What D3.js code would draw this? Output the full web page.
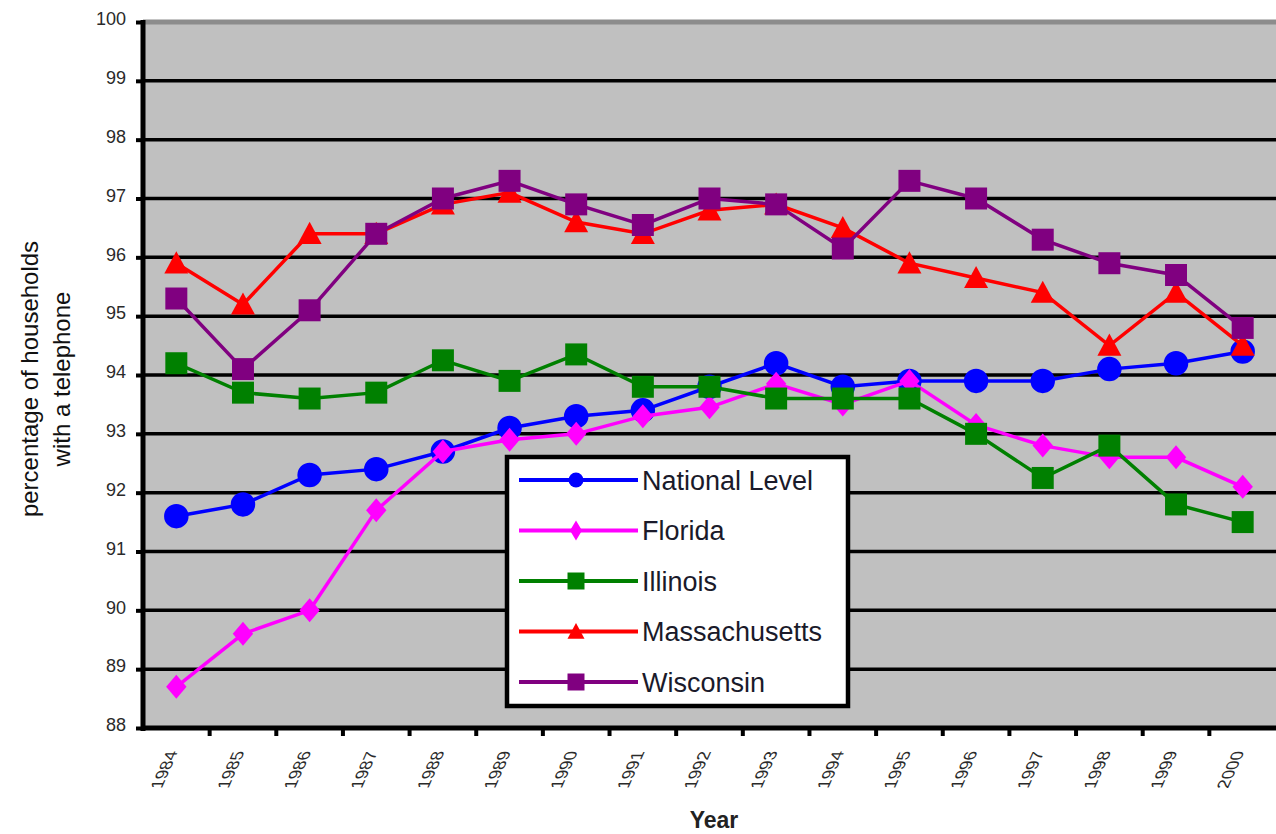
<!DOCTYPE html>
<html>
<head>
<meta charset="utf-8">
<script src="https://cdn.jsdelivr.net/npm/d3@7"></script>
<style>
  html, body { margin: 0; padding: 0; background: #fff; }
  svg { display: block; font-family: "Liberation Sans", Arial, sans-serif; }
</style>
</head>
<body>
<div id="chart"></div>
<script>
// Telephone penetration by state, 1984-2000

const years = ["1984","1985","1986","1987","1988","1989","1990","1991","1992",
               "1993","1994","1995","1996","1997","1998","1999","2000"];

const national      = [91.6, 91.8, 92.3, 92.4, 92.7, 93.1, 93.3, 93.4, 93.8, 94.2, 93.8, 93.9, 93.9, 93.9, 94.1, 94.2, 94.4];
const florida       = [88.7, 89.6, 90.0, 91.7, 92.7, 92.9, 93.0, 93.3, 93.45, 93.85, 93.5, 93.9, 93.15, 92.8, 92.6, 92.6, 92.1];
const illinois      = [94.2, 93.7, 93.6, 93.7, 94.25, 93.9, 94.35, 93.8, 93.8, 93.6, 93.6, 93.6, 93.0, 92.25, 92.8, 91.8, 91.5];
const massachusetts = [95.9, 95.2, 96.4, 96.4, 96.9, 97.1, 96.6, 96.4, 96.8, 96.9, 96.5, 95.9, 95.65, 95.4, 94.5, 95.4, 94.5];
const wisconsin     = [95.3, 94.1, 95.1, 96.4, 97.0, 97.3, 96.9, 96.55, 97.0, 96.9, 96.15, 97.3, 97.0, 96.3, 95.9, 95.7, 94.8];

const seriesNames = ["National Level", "Florida", "Illinois", "Massachusetts", "Wisconsin"];
const yTicks = [88, 89, 90, 91, 92, 93, 94, 95, 96, 97, 98, 99, 100];

// custom symbols so triangles / diamonds sit centred like Excel markers
const symTriangle = {
  draw(ctx, size) {
    const s = Math.sqrt(size) / 2;
    ctx.moveTo(0, -s);
    ctx.lineTo(s, s * 0.85);
    ctx.lineTo(-s, s * 0.85);
    ctx.closePath();
  }
};
const symDiamond = {
  draw(ctx, size) {
    const s = Math.sqrt(size) / 2;
    ctx.moveTo(0, -s);
    ctx.lineTo(s * 0.85, 0);
    ctx.lineTo(0, s);
    ctx.lineTo(-s * 0.85, 0);
    ctx.closePath();
  }
};
const symTallDiamond = {
  draw(ctx, size) {
    const s = Math.sqrt(size) / 2;
    ctx.moveTo(0, -s);
    ctx.lineTo(s * 0.6, 0);
    ctx.lineTo(0, s);
    ctx.lineTo(-s * 0.6, 0);
    ctx.closePath();
  }
};

const series = [
  { name: seriesNames[0], values: national,      color: "#0000ff", sym: d3.symbolCircle, legendSym: d3.symbolCircle, size: Math.PI * 150, legendSize: Math.PI * 56 },
  { name: seriesNames[1], values: florida,       color: "#ff00ff", sym: symDiamond,      legendSym: symTallDiamond, size: 576, legendSize: 400 },
  { name: seriesNames[2], values: illinois,      color: "#008000", sym: d3.symbolSquare, legendSym: d3.symbolSquare, size: 484, legendSize: 289 },
  { name: seriesNames[3], values: massachusetts, color: "#ff0000", sym: symTriangle,     legendSym: symTriangle,    size: 576, legendSize: 290 },
  { name: seriesNames[4], values: wisconsin,     color: "#800080", sym: d3.symbolSquare, legendSym: d3.symbolSquare, size: 484, legendSize: 289 }
];

const width = 1276, height = 834;
const plot = { left: 143, right: 1276, top: 22, bottom: 728 };

const svg = d3.select("#chart").append("svg")
  .attr("width", width)
  .attr("height", height);

// scales
const x = d3.scaleBand()
  .domain(years)
  .range([plot.left, plot.right])
  .padding(0);
const cx = d => x(d) + x.bandwidth() / 2;

const y = d3.scaleLinear()
  .domain([88, 100])
  .range([plot.bottom, plot.top]);

// plot background
svg.append("rect")
  .attr("x", plot.left).attr("y", plot.top)
  .attr("width", plot.right - plot.left)
  .attr("height", plot.bottom - plot.top)
  .attr("fill", "#c0c0c0");

// gridlines (top one greyish like the frame)
svg.append("g")
  .selectAll("line")
  .data(yTicks.filter(t => t > 88))
  .join("line")
  .attr("x1", plot.left).attr("x2", plot.right)
  .attr("y1", d => y(d)).attr("y2", d => y(d))
  .attr("stroke", d => d === 100 ? "#8c8c8c" : "#000")
  .attr("stroke-width", d => d === 100 ? 5 : 3.5);

// y axis
const yAxis = svg.append("g")
  .attr("transform", `translate(${plot.left},0)`)
  .call(d3.axisLeft(y).tickValues(yTicks).tickSize(7).tickPadding(10).tickFormat(d3.format("d")));
yAxis.select(".domain").remove();
yAxis.selectAll("line").attr("stroke", "#000").attr("stroke-width", 4);
yAxis.selectAll("text")
  .attr("dy", "0.15em")
  .style("font-size", "18px")
  .style("fill", "#2a2a2a")
  .style("font-family", "'Liberation Sans', Arial, sans-serif");

// x axis ticks at category boundaries
const boundaries = years.map(d => x(d)).concat([plot.right]);
svg.append("g")
  .selectAll("line")
  .data(boundaries.slice(1, -1))
  .join("line")
  .attr("x1", d => d).attr("x2", d => d)
  .attr("y1", plot.bottom).attr("y2", plot.bottom + 8)
  .attr("stroke", "#000")
  .attr("stroke-width", 4);

// axis lines
svg.append("line")
  .attr("x1", plot.left).attr("x2", plot.right)
  .attr("y1", plot.bottom).attr("y2", plot.bottom)
  .attr("stroke", "#000").attr("stroke-width", 5);
svg.append("line")
  .attr("x1", plot.left).attr("x2", plot.left)
  .attr("y1", plot.top - 2).attr("y2", plot.bottom + 3)
  .attr("stroke", "#000").attr("stroke-width", 5);

// slanted year labels
svg.append("g")
  .selectAll("text")
  .data(years)
  .join("text")
  .attr("transform", d => `translate(${cx(d) + 2},${plot.bottom + 23}) rotate(-90) skewY(24)`)
  .attr("text-anchor", "end")
  .style("font-size", "17px")
  .style("fill", "#2a2a2a")
  .text(d => d);

// axis titles
svg.append("text")
  .attr("x", 714).attr("y", 828)
  .attr("text-anchor", "middle")
  .style("font-size", "23px")
  .style("font-weight", "bold")
  .style("fill", "#222")
  .text("Year");

const yTitle = svg.append("text")
  .attr("transform", "translate(38,379) rotate(-90)")
  .attr("text-anchor", "middle")
  .style("font-size", "24px")
  .style("fill", "#111");
yTitle.append("tspan").attr("x", 0).attr("y", 0).text("percentage of households");
yTitle.append("tspan").attr("x", 0).attr("y", 32).text("with a telephone");

// lines + markers
const line = d3.line()
  .x((v, i) => cx(years[i]))
  .y(v => y(v));

series.forEach(s => {
  const g = svg.append("g");
  g.append("path")
    .datum(s.values)
    .attr("d", line)
    .attr("fill", "none")
    .attr("stroke", s.color)
    .attr("stroke-width", 3.5);
  g.selectAll("path.m")
    .data(s.values)
    .join("path")
    .attr("class", "m")
    .attr("transform", (v, i) => `translate(${cx(years[i])},${y(v)})`)
    .attr("d", d3.symbol(s.sym, s.size))
    .attr("fill", s.color);
});

// legend
const legend = svg.append("g").attr("transform", "translate(507,457)");
legend.append("rect")
  .attr("x", 0).attr("y", 0)
  .attr("width", 341).attr("height", 249)
  .attr("fill", "#fff")
  .attr("stroke", "#000")
  .attr("stroke-width", 4.5);

series.forEach((s, i) => {
  const row = legend.append("g").attr("transform", `translate(0,${23 + i * 50.5})`);
  row.append("line")
    .attr("x1", 12).attr("x2", 131)
    .attr("y1", 0).attr("y2", 0)
    .attr("stroke", s.color)
    .attr("stroke-width", 4);
  row.append("path")
    .attr("transform", "translate(69,0)")
    .attr("d", d3.symbol(s.legendSym, s.legendSize))
    .attr("fill", s.color);
  row.append("text")
    .attr("x", 135).attr("y", 0)
    .attr("dy", "0.36em")
    .style("font-size", "27px")
    .style("fill", "#1a1a2a")
    .text(s.name);
});
</script>
</body>
</html>
